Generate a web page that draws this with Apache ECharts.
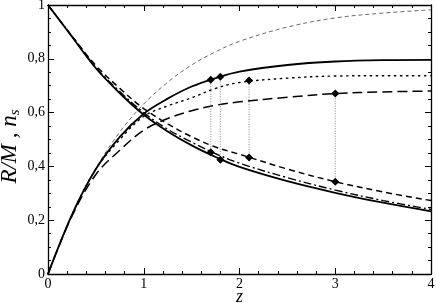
<!DOCTYPE html>
<html>
<head>
<meta charset="utf-8">
<script src="https://cdn.jsdelivr.net/npm/echarts@6.0.0/dist/echarts.min.js"></script>
<style>
  html, body { margin: 0; padding: 0; background: #fff; }
  #main { width: 436px; height: 303px; }
</style>
</head>
<body>
<div id="main"></div>
<script>
// z sample points shared by all curves
var zs = [0, 0.25, 0.5, 0.75, 1, 1.25, 1.5, 1.75, 2, 2.5, 3, 3.5, 4]

// rising curves
var thinDash = [0, 0.22, 0.393, 0.528, 0.632, 0.713, 0.777, 0.826, 0.865, 0.918, 0.952, 0.970, 0.982]
var solidUp = [0, 0.22, 0.39, 0.51, 0.596, 0.652, 0.697, 0.728, 0.752, 0.777, 0.79, 0.795, 0.796]
var dottedUp = [0, 0.22, 0.39, 0.50, 0.586, 0.625, 0.655, 0.69, 0.712, 0.728, 0.736, 0.737, 0.737]
var longDashUp = [0, 0.215, 0.37, 0.46, 0.535, 0.578, 0.607, 0.627, 0.64, 0.657, 0.671, 0.677, 0.68]

// falling curves
var solidDown = [1, 0.882, 0.765, 0.672, 0.592, 0.53, 0.478, 0.435, 0.398, 0.345, 0.302, 0.265, 0.233]
var dashDotDown = [1, 0.884, 0.768, 0.678, 0.60, 0.538, 0.49, 0.447, 0.412, 0.358, 0.312, 0.273, 0.24]
var dashDown = [1, 0.885, 0.775, 0.69, 0.615, 0.558, 0.51, 0.472, 0.445, 0.39, 0.343, 0.305, 0.273]

// diamond markers joined by thin vertical dotted lines
var markerZ = [1.7, 1.8, 2.1, 3.0]
var markerUpper = [0.722, 0.733, 0.719, 0.671]
var markerLower = [0.453, 0.425, 0.433, 0.343]

var xTicks = [0, 1, 2, 3, 4]
var yTicks = [0, 0.2, 0.4, 0.6, 0.8, 1]

var serif = 'Liberation Serif'

function pairs(ys) {
  var out = []
  for (var i = 0; i < zs.length; i++) out.push([zs[i], ys[i]])
  return out
}

function curve(ys, style) {
  return {
    type: 'line',
    data: pairs(ys),
    showSymbol: false,
    smooth: 0.35,
    silent: true,
    lineStyle: style
  }
}

function commaFmt(v) {
  return String(v).replace('.', ',')
}

var series = [
  curve(thinDash, { color: '#444', width: 0.8, type: [4, 3] }),
  curve(solidUp, { color: '#000', width: 1.8, type: 'solid' }),
  curve(dottedUp, { color: '#000', width: 1.4, type: [1.4, 4.6], cap: 'round' }),
  curve(longDashUp, { color: '#000', width: 1.5, type: [10, 5] }),
  curve(solidDown, { color: '#000', width: 1.8, type: 'solid' }),
  curve(dashDotDown, { color: '#000', width: 1.4, type: [8, 3, 2, 3] }),
  curve(dashDown, { color: '#000', width: 1.5, type: [6, 4] })
]

for (var k = 0; k < markerZ.length; k++) {
  series.push({
    type: 'line',
    data: [[markerZ[k], markerLower[k]], [markerZ[k], markerUpper[k]]],
    symbol: 'diamond',
    symbolSize: 8,
    showSymbol: true,
    silent: true,
    itemStyle: { color: '#000' },
    lineStyle: { color: '#666', width: 0.8, type: [1, 1.5] },
    z: 5
  })
}

function axisBase(extra) {
  var a = {
    type: 'value',
    axisLine: { show: true, onZero: false, lineStyle: { color: '#000', width: 1.3 } },
    axisTick: { show: true, inside: true, length: 6, lineStyle: { color: '#000', width: 1 } },
    minorTick: { show: true, length: 3, lineStyle: { color: '#000', width: 1 } },
    splitLine: { show: false },
    minorSplitLine: { show: false }
  }
  for (var key in extra) a[key] = extra[key]
  return a
}

var labelStyle = { fontFamily: serif, fontSize: 14, color: '#000' }

var option = {
  animation: false,
  backgroundColor: '#fff',
  grid: { left: 48, right: 5, top: 5, bottom: 29, containLabel: false, outerBoundsMode: 'none' },
  xAxis: [
    axisBase({
      position: 'bottom', min: xTicks[0], max: xTicks[xTicks.length - 1], interval: 1,
      minorTick: { show: true, splitNumber: 5, length: 3, lineStyle: { color: '#000' } },
      axisLabel: Object.assign({ margin: 3, formatter: commaFmt }, labelStyle),
      name: 'z', nameLocation: 'middle', nameGap: 14, nameMoveOverlap: false,
      nameTextStyle: { fontFamily: serif, fontSize: 18, fontStyle: 'italic', color: '#000' }
    }),
    axisBase({
      position: 'top', min: 0, max: 4, interval: 1,
      minorTick: { show: true, splitNumber: 5, length: 3, lineStyle: { color: '#000' } },
      axisLabel: { show: false }
    })
  ],
  yAxis: [
    axisBase({
      position: 'left', min: yTicks[0], max: yTicks[yTicks.length - 1], interval: 0.2,
      minorTick: { show: true, splitNumber: 4, length: 3, lineStyle: { color: '#000' } },
      axisLabel: Object.assign({ margin: 3, formatter: commaFmt }, labelStyle),
      name: '{i|R/M , n}{s|s}', nameLocation: 'middle', nameGap: 25, nameRotate: 90,
      nameMoveOverlap: false,
      nameTextStyle: {
        color: '#000',
        padding: [0, 14, 0, 0],
        rich: {
          i: { fontFamily: serif, fontSize: 23, fontStyle: 'italic', color: '#000', lineHeight: 26 },
          s: { fontFamily: serif, fontSize: 15, fontStyle: 'italic', color: '#000', padding: [11, 0, 0, 0], lineHeight: 26 }
        }
      }
    }),
    axisBase({
      position: 'right', min: 0, max: 1, interval: 0.2,
      minorTick: { show: true, splitNumber: 4, length: 3, lineStyle: { color: '#000' } },
      axisLabel: { show: false }
    })
  ],
  series: series
}

var chart = echarts.init(document.getElementById('main'), null, { renderer: 'canvas' })
chart.setOption(option)
</script>
</body>
</html>
